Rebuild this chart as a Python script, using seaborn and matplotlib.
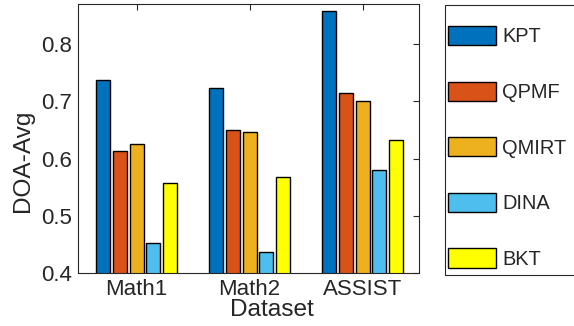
import pandas as pd
import matplotlib.pyplot as plt
import matplotlib.patches as mpatches
import seaborn as sns

datasets = ['Math1', 'Math2', 'ASSIST']
models = ['KPT', 'QPMF', 'QMIRT', 'DINA', 'BKT']
kpt = [0.738, 0.724, 0.858]
qpmf = [0.614, 0.649, 0.714]
qmirt = [0.626, 0.647, 0.700]
dina = [0.453, 0.436, 0.580]
bkt = [0.558, 0.568, 0.633]
colors = ['#0072BD', '#D95319', '#EDB120', '#4DBEEE', '#FFFF00']
yticks = [0.4, 0.5, 0.6, 0.7, 0.8]


def main():
    rows = []
    for m, vals in zip(models, [kpt, qpmf, qmirt, dina, bkt]):
        for d, v in zip(datasets, vals):
            rows.append({'Dataset': d, 'Model': m, 'DOA': v})
    df = pd.DataFrame(rows)

    sns.set_style('white')
    plt.rcParams['font.family'] = ['Liberation Sans', 'DejaVu Sans']
    ink = '#262626'

    fig = plt.figure(figsize=(5.74, 3.26), dpi=100)
    ax = fig.add_axes([78 / 574, 1 - 273 / 326, 341 / 574, 269 / 326])

    sns.barplot(data=df, x='Dataset', y='DOA', hue='Model', order=datasets,
                hue_order=models, palette=dict(zip(models, colors)),
                width=0.74, gap=0.16, edgecolor='black', linewidth=1.0,
                saturation=1, legend=True, ax=ax)

    ax.set_ylim(0.4, 0.87)
    ax.set_xlim(-0.52, 2.5)
    ax.set_yticks(yticks)
    ax.set_yticklabels([f'{t:.1f}' for t in yticks])
    ax.tick_params(axis='both', direction='in', length=4, width=0.8,
                   colors=ink, labelsize=16, top=True, right=True, pad=4)
    for sp in ax.spines.values():
        sp.set_visible(True)
        sp.set_color(ink)
        sp.set_linewidth(0.8)
    ax.set_xlabel('Dataset', fontsize=17.6, color=ink)
    ax.set_ylabel('DOA-Avg', fontsize=17.6, color=ink)
    ax.xaxis.set_label_coords((272 - 78) / 341, (273 - 299) / 269)
    ax.yaxis.set_label_coords((34 - 78) / 341, (273 - 161) / 269)

    handles, labels = ax.get_legend_handles_labels()
    ax.get_legend().remove()
    fig.legend(handles, labels, loc='upper left',
               bbox_to_anchor=(448 / 574, 1 - 26 / 326), frameon=False,
               fontsize=14.4, borderpad=0, handleheight=1.1, handlelength=2.4,
               handletextpad=0.3, labelspacing=1.76, borderaxespad=0)
    fig.patches.append(mpatches.Rectangle(
        (445 / 574, 1 - 275 / 326), 140 / 574, 270 / 326,
        transform=fig.transFigure, fill=False, edgecolor=ink, linewidth=0.8))

    fig.savefig('out.png', dpi=100)


if __name__ == "__main__":
    main()
